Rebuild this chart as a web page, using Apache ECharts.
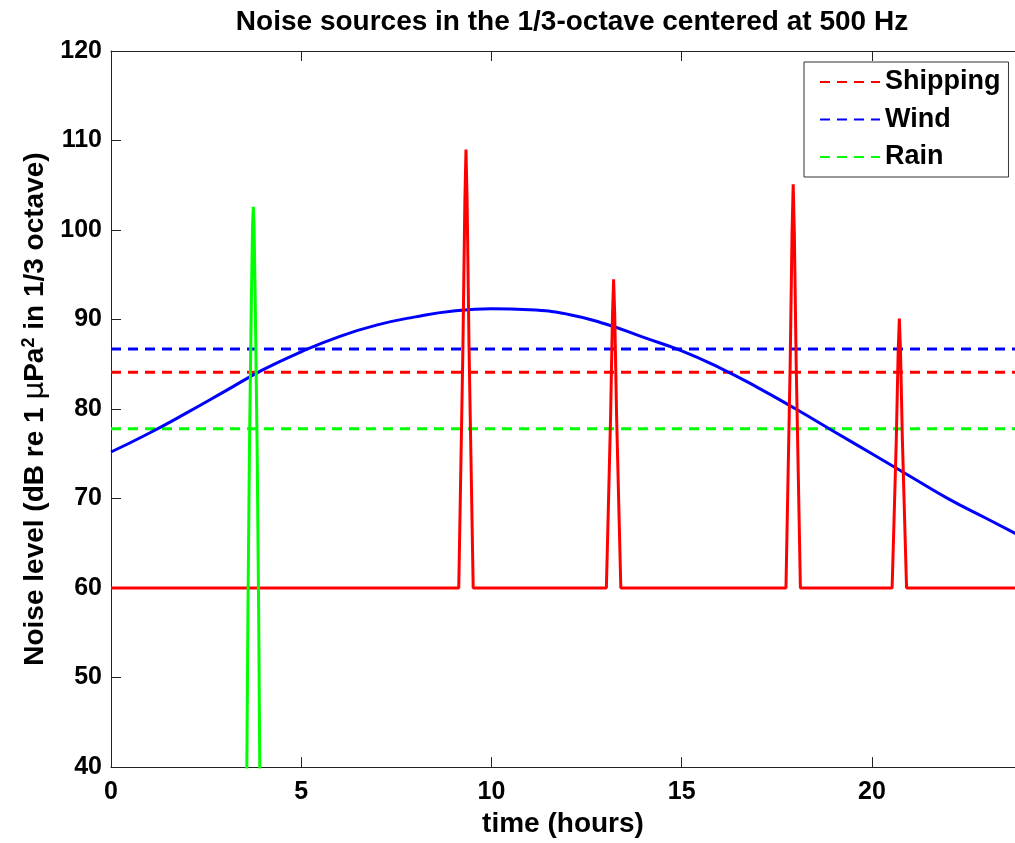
<!DOCTYPE html>
<html>
<head>
<meta charset="utf-8">
<script src="https://cdn.jsdelivr.net/npm/echarts@6/dist/echarts.min.js"></script>
<style>
  html, body { margin: 0; padding: 0; background: #fff; }
  #chart { width: 1015px; height: 843px; }
</style>
</head>
<body>
<div id="chart"></div>
<script>
// hourly wind noise (dB)
const windHours = [0, 1, 2, 3, 4, 5, 6, 7, 8, 9, 10, 11, 12, 13, 14, 15, 16, 17, 18, 19, 20, 21, 22, 23, 24]
const windLevel = [75.2, 77.3, 79.6, 82.0, 84.4, 86.4, 88.1, 89.4, 90.3, 90.95, 91.2, 91.1, 90.6, 89.5, 88.0, 86.5, 84.6, 82.4, 80.0, 77.5, 75.0, 72.5, 70.0, 67.8, 65.6]

// shipping noise: background plus four passing ships
const shipHours = [0, 9.14, 9.19, 9.25, 9.30, 9.33, 9.36, 9.41, 9.47, 9.52,
  13.02, 13.07, 13.13, 13.18, 13.21, 13.24, 13.29, 13.35, 13.40,
  17.74, 17.79, 17.85, 17.90, 17.93, 17.96, 18.01, 18.07, 18.12,
  20.53, 20.58, 20.64, 20.69, 20.72, 20.75, 20.80, 20.86, 20.91, 24]
const shipLevel = [60, 60, 72.3, 87.0, 103.1, 109.0, 103.1, 87.0, 72.3, 60,
  60, 68.6, 79.0, 90.4, 94.5, 90.4, 79.0, 68.6, 60,
  60, 71.3, 84.8, 99.7, 105.1, 99.7, 84.8, 71.3, 60,
  60, 67.5, 76.6, 86.5, 90.1, 86.5, 76.6, 67.5, 60, 60]

// rain shower around 3.7 h
const rainHours = [3.40, 3.57, 3.60, 3.64, 3.69, 3.72, 3.74, 3.76, 3.79, 3.84, 3.88, 3.91, 4.08]
const rainLevel = [10, 40, 57.8, 76.0, 92.3, 100.5, 102.6, 100.5, 92.3, 76.0, 57.8, 40, 10]

// averages (dashed)
const meanNames = ['Shipping', 'Wind', 'Rain']
const meanLevel = [84.1, 86.7, 77.8]
const colors = ['#ff0000', '#0000ff', '#00ff00']

const xTicks = [0, 5, 10, 15, 20]

const zip = (xs, ys) => xs.map((x, i) => [x, ys[i]])

const chart = echarts.init(document.getElementById('chart'))

const font = 'Liberation Sans, Arial, sans-serif'
const axisLine = { show: true, lineStyle: { color: '#222', width: 1 } }
const axisTick = { show: true, inside: true, length: 10, lineStyle: { color: '#222' } }
const labelFont = { color: '#000', fontWeight: 'bold', fontSize: 25, fontFamily: font }

const solid = (name, data, color, smooth) => ({
  name: name,
  type: 'line',
  data: data,
  symbol: 'none',
  smooth: smooth,
  lineStyle: { color: color, width: 3 },
  itemStyle: { color: color },
  silent: true
})

const dashed = meanNames.map((n, i) => ({
  name: n,
  type: 'line',
  data: [[0, meanLevel[i]], [24, meanLevel[i]]],
  symbol: 'none',
  lineStyle: { color: colors[i], width: 3, type: [10, 7] },
  itemStyle: { color: colors[i] },
  silent: true
}))

// plot runs past the right edge of the picture, so the visible max is ~23.76 h
const xMax = 23.76

chart.setOption({
  animation: false,
  backgroundColor: '#fff',
  title: {
    text: 'Noise sources in the 1/3-octave centered at 500 Hz',
    left: 567,
    textAlign: 'center',
    top: 3,
    textStyle: { color: '#000', fontWeight: 'bold', fontSize: 28, fontFamily: font }
  },
  grid: { left: 111, top: 51, bottom: 73, right: 0 },
  legend: {
    data: meanNames,
    orient: 'vertical',
    left: 804,
    top: 62,
    backgroundColor: '#fff',
    borderColor: '#333',
    borderWidth: 1,
    borderRadius: 0,
    padding: [6, 8, 6, 15],
    itemGap: 9.5,
    itemWidth: 60,
    itemHeight: 14,
    itemStyle: { color: 'rgba(0,0,0,0)', borderWidth: 0 },
    textStyle: { color: '#000', fontWeight: 'bold', fontSize: 27, lineHeight: 28, fontFamily: font }
  },
  xAxis: [{
    type: 'value',
    min: 0,
    max: xMax,
    name: 'time (hours)',
    nameLocation: 'middle',
    nameGap: 40,
    nameTextStyle: { color: '#000', fontWeight: 'bold', fontSize: 28, fontFamily: font },
    axisLine: axisLine,
    axisTick: Object.assign({ customValues: xTicks }, axisTick),
    axisLabel: Object.assign({ margin: 13, customValues: xTicks }, labelFont),
    splitLine: { show: false }
  }, {
    type: 'value',
    position: 'top',
    min: 0,
    max: xMax,
    axisLine: axisLine,
    axisTick: Object.assign({ customValues: xTicks }, axisTick),
    axisLabel: { show: false },
    splitLine: { show: false }
  }],
  yAxis: {
    type: 'value',
    min: 40,
    max: 120,
    interval: 10,
    name: 'Noise level (dB re 1 {mu|μ}Pa{sup|2} in 1/3 octave)',
    nameLocation: 'middle',
    nameRotate: 90,
    nameGap: 59,
    nameTextStyle: {
      color: '#000', fontWeight: 'bold', fontSize: 28, fontFamily: font,
      rich: {
        mu: { color: '#000', fontSize: 28, fontWeight: 'normal', fontFamily: 'DejaVu Sans, sans-serif' },
        sup: { color: '#000', fontSize: 18, fontWeight: 'bold', fontFamily: font, verticalAlign: 'top', padding: [0, 0, 12, 0] }
      }
    },
    axisLine: axisLine,
    axisTick: axisTick,
    axisLabel: Object.assign({ margin: 9 }, labelFont),
    splitLine: { show: false }
  },
  series: [
    ...dashed,
    solid('wind level', zip(windHours, windLevel), colors[1], true),
    solid('shipping level', zip(shipHours, shipLevel), colors[0], false),
    solid('rain level', zip(rainHours, rainLevel), colors[2], false)
  ]
})
</script>
</body>
</html>
